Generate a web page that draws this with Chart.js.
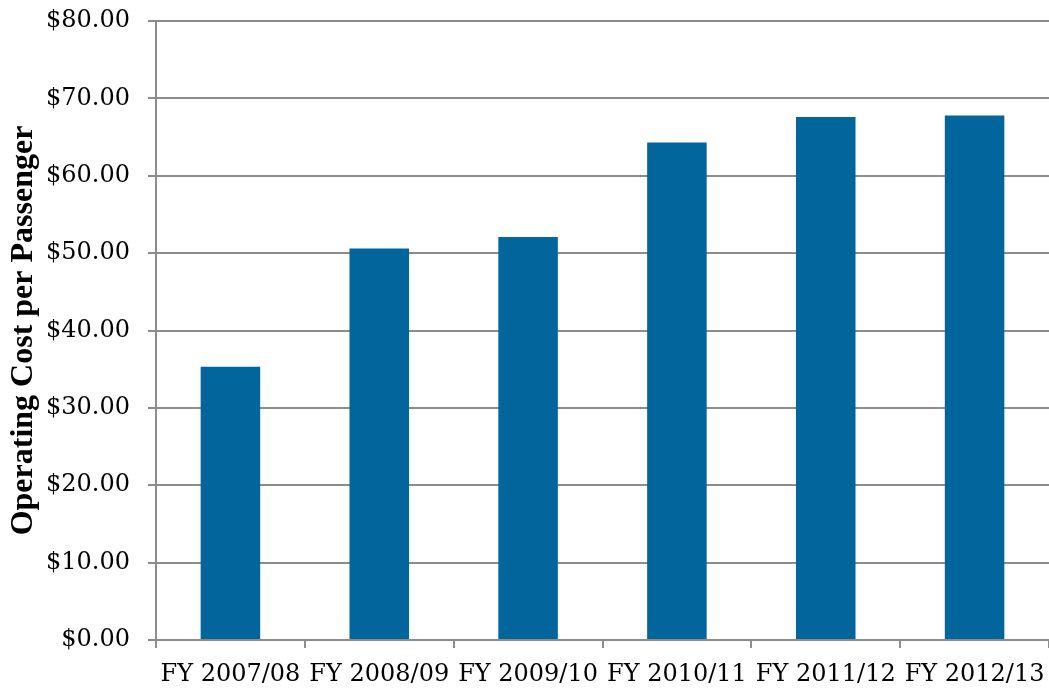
<!DOCTYPE html>
<html>
<head>
<meta charset="utf-8">
<script src="https://cdn.jsdelivr.net/npm/chart.js@4/dist/chart.umd.min.js"></script>
<style>
  html, body { margin: 0; padding: 0; background: #fff; }
  #wrap { width: 1049px; height: 689px; }
</style>
</head>
<body>
<div id="wrap"><canvas id="myChart" width="1049" height="689"></canvas></div>
<script>
const yearLabels = ['FY 2007/08', 'FY 2008/09', 'FY 2009/10', 'FY 2010/11', 'FY 2011/12', 'FY 2012/13'];
const costPerPassenger = [35.3, 50.6, 52.1, 64.3, 67.6, 67.8];
const yTicks = [0, 10, 20, 30, 40, 50, 60, 70, 80];

const gridGray = '#8c8c8c';

const ctx = document.getElementById('myChart').getContext('2d');
new Chart(ctx, {
  type: 'bar',
  data: {
    labels: yearLabels,
    datasets: [{
      data: costPerPassenger,
      backgroundColor: '#02669c',
      barPercentage: 0.4,
      categoryPercentage: 1.0
    }]
  },
  options: {
    responsive: false,
    animation: false,
    layout: { padding: { top: 21, right: 0, bottom: 0, left: 8 } },
    plugins: {
      legend: { display: false },
      tooltip: { enabled: false }
    },
    scales: {
      x: {
        afterFit: scale => {
          scale.height = 49;
          scale.paddingLeft = 0;
          scale.paddingRight = 0;
        },
        grid: {
          drawOnChartArea: false,
          color: gridGray,
          lineWidth: 2,
          tickLength: 8
        },
        border: { color: gridGray, width: 2 },
        ticks: {
          color: '#000',
          font: { family: 'DejaVu Serif', size: 24, lineHeight: 1 },
          maxRotation: 0,
          autoSkip: false,
          padding: 15
        }
      },
      y: {
        min: 0,
        max: 80,
        afterBuildTicks: axis => { axis.ticks = yTicks.map(v => ({ value: v })); },
        afterFit: scale => {
          scale.width = 148;
          scale.paddingTop = 0;
          scale.paddingBottom = 0;
        },
        grid: {
          color: gridGray,
          lineWidth: 2,
          tickLength: 8
        },
        border: { color: gridGray, width: 2 },
        ticks: {
          color: '#000',
          font: { family: 'DejaVu Serif', size: 24, lineHeight: 1 },
          padding: 18,
          callback: v => '$' + Number(v).toFixed(2)
        },
        title: {
          display: true,
          text: 'Operating Cost per Passenger',
          color: '#000',
          font: { family: 'Liberation Serif', size: 32, weight: 'bold', lineHeight: 1 },
          padding: { top: 0, bottom: 0 }
        }
      }
    }
  }
});
</script>
</body>
</html>
